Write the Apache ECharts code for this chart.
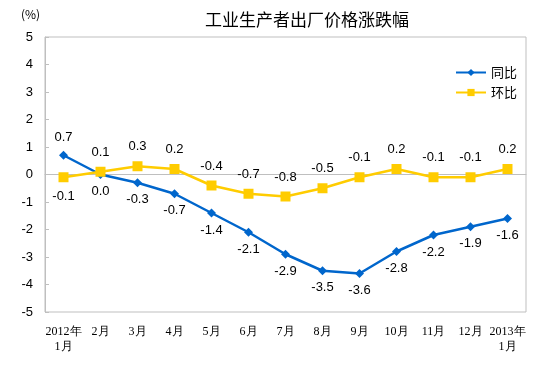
<!DOCTYPE html>
<html><head><meta charset="utf-8">
<script src="https://cdn.jsdelivr.net/npm/echarts@6/dist/echarts.min.js"></script>
<style>html,body{margin:0;padding:0;background:#fff}#c{width:554px;height:371px}</style>
</head><body><div id="c"></div>
<script>
var categories = ['2012年\n1月','2月','3月','4月','5月','6月','7月','8月','9月','10月','11月','12月','2013年\n1月'];
var yoy = [0.7, 0.0, -0.3, -0.7, -1.4, -2.1, -2.9, -3.5, -3.6, -2.8, -2.2, -1.9, -1.6];
var mom = [-0.1, 0.1, 0.3, 0.2, -0.4, -0.7, -0.8, -0.5, -0.1, 0.2, -0.1, -0.1, 0.2];
var yTicks = [-5,-4,-3,-2,-1,0,1,2,3,4,5];

var lblFont = {fontFamily:'Liberation Sans, Arial, sans-serif', fontSize:13, color:'#000'};
function fmt(p){ return p.value.toFixed(1); }
var yoyData = yoy.map(function(v,i){
  return {value:v, label:{position: i===0?'top':'bottom', distance: i===0?7:6}};
});
var momData = mom.map(function(v,i){
  return {value:v, label:{position: i===0?'bottom':'top', distance: 8}};
});

var chart = echarts.init(document.getElementById('c'));
chart.setOption({
  animation:false,
  backgroundColor:'#fff',
  title:{text:'工业生产者出厂价格涨跌幅', left:302, textAlign:'center', top:6,
    textStyle:{fontFamily:'Noto Sans CJK SC', fontSize:17, fontWeight:'normal', color:'#000'}},
  graphic:[{type:'text', left:21, top:8, style:{text:'(%)', fontFamily:'Noto Sans CJK SC', fontSize:12, fill:'#000'}}],
  legend:{orient:'vertical', left:450, top:61, itemWidth:30, itemHeight:9, itemGap:7,
    textStyle:{fontFamily:'Noto Sans CJK SC', fontSize:13, color:'#000'},
    data:['同比','环比']},
  grid:{left:45, right:28, top:37, bottom:59, show:true, borderColor:'#bfbfbf', borderWidth:1, containLabel:false},
  xAxis:{type:'category', data:categories, boundaryGap:true,
    axisLine:{lineStyle:{color:'#bfbfbf'}},
    axisTick:{inside:true, length:4, lineStyle:{color:'#bfbfbf'}},
    axisLabel:{margin:12, fontFamily:'Liberation Serif, serif', fontSize:12, color:'#000', lineHeight:15, interval:0}},
  yAxis:{type:'value', min:yTicks[0], max:yTicks[yTicks.length-1], interval:1,
    axisLine:{show:true, lineStyle:{color:'#bfbfbf'}},
    axisTick:{show:true, inside:true, length:4, lineStyle:{color:'#bfbfbf'}},
    splitLine:{show:false},
    axisLabel:{margin:12, fontFamily:'Liberation Sans, Arial, sans-serif', fontSize:13, color:'#000'}},
  series:[
    {name:'同比', type:'line', data:yoyData, symbol:'diamond', symbolSize:9,
      itemStyle:{color:'#0066cc'}, lineStyle:{color:'#0066cc', width:2.5},
      label:Object.assign({show:true, formatter:fmt}, lblFont)},
    {name:'环比', type:'line', data:momData, symbol:'rect', symbolSize:10,
      itemStyle:{color:'#ffcc00'}, lineStyle:{color:'#ffcc00', width:2.5},
      label:Object.assign({show:true, formatter:fmt}, lblFont)}
  ]
});
</script></body></html>
